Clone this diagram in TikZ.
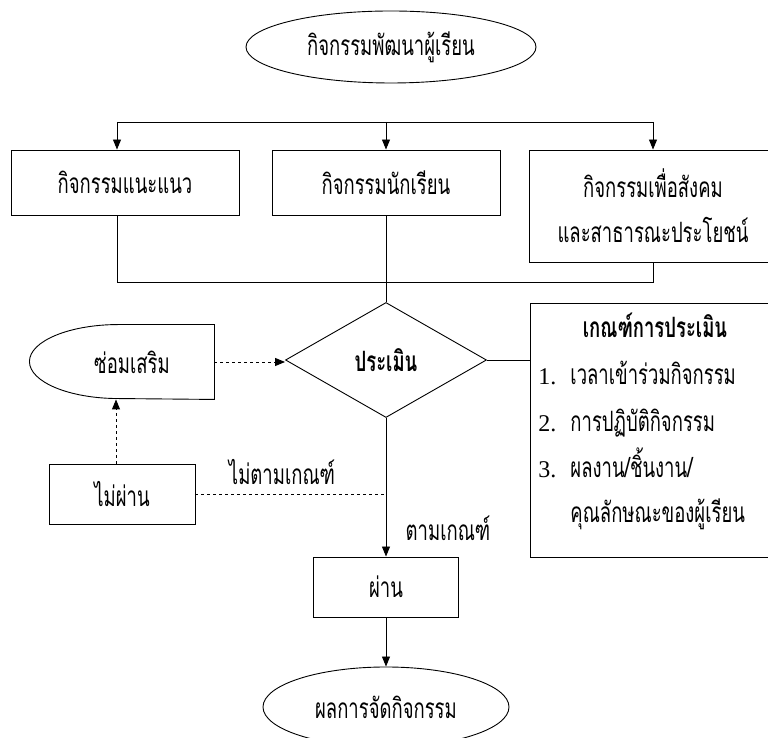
\documentclass[tikz,border=0pt]{standalone}
\usepackage{fontspec}
\setmainfont{Liberation Serif}
\newfontfamily\thai[Script=Thai,FakeStretch=0.66]{Loma}
\usetikzlibrary{shapes.geometric,arrows.meta}
\begin{document}
\begin{tikzpicture}[x=1pt, y=1pt, >={Triangle[length=10pt,width=8pt]},
  line width=0.9pt,
  thaifont/.style={font=\thai\fontsize{28}{45}\selectfont},
  box/.style={draw, rectangle, inner sep=0pt, thaifont, align=center},
  oval/.style={draw, ellipse, inner sep=0pt, thaifont},
  txt/.style={inner sep=0pt, thaifont},
  item/.style={inner sep=0pt, anchor=base west, thaifont},
  num/.style={inner sep=0pt, anchor=base west, font=\fontsize{24}{26}\selectfont}]

\useasboundingbox (0,0) rectangle (768,738);
\clip (0,0) rectangle (768,738);

%=== Верх: кружок и три вида ===
\node[oval, minimum width=290pt, minimum height=72pt] (start) at (391,691) {กิจกรรมพัฒนาผู้เรียน};

\node[box, minimum width=228pt, minimum height=65pt] (guide) at (125,555.5) {กิจกรรมแนะแนว};
\node[box, minimum width=228pt, minimum height=65pt] (student) at (386,555.5) {กิจกรรมนักเรียน};
\node[box, minimum width=248pt, minimum height=112pt] (social) at (653,532) {กิจกรรมเพื่อสังคม\\และสาธารณะประโยชน์};

\coordinate (busL) at (117,616);
\coordinate (busR) at (653,616);
\draw (busL) -- (busR);
\draw[->] (busL) -- (busL |- guide.north);
\draw[->] (busL -| student.north) -- (student.north);
\draw[->] (busR) -- (social.north);

% сбор в одну линию
\coordinate (joinL) at (117,456);
\draw (joinL |- guide.south) -- (joinL) -- (joinL -| social.south) -- (social.south);

%=== Середина: ромб и критерии ===
\node[draw, diamond, inner sep=0pt, aspect=1.75, minimum width=201pt, minimum height=115pt,
  font=\thai\bfseries\fontsize{28}{30}\selectfont] (eval) at (386,378) {ประเมิน};
\draw (student.south) -- (eval.north);

\node[draw, rectangle, minimum width=247pt, minimum height=254pt] (crit) at (653.5,308) {};
\draw (eval.east) -- (eval.east -| crit.west);
\node[txt, anchor=base, font=\thai\bfseries\fontsize{28}{30}\selectfont] (critT) at (655,400) {เกณฑ์การประเมิน};
\coordinate (numx) at (538,0);
\node[item] (c1) at (570,353) {เวลาเข้าร่วมกิจกรรม};
\node[num] (n1) at (numx |- c1.base) {1.};
\node[item] (c2) at (570,306) {การปฏิบัติกิจกรรม};
\node[num] (n2) at (numx |- c2.base) {2.};
\node[item] (c3) at (570,260) {ผลงาน/ชิ้นงาน/};
\node[num] (n3) at (numx |- c3.base) {3.};
\node[item] (c4) at (570,215) {คุณลักษณะของผู้เรียน};

%=== Левая ветка: ซ่อมเสริม ===
\node[inner sep=0pt, minimum width=185pt, minimum height=74pt, thaifont] (fix) at (121.5,376) {\hspace{21pt}ซ่อมเสริม};
\draw (fix.north east) -- ++(-96,0)
  arc[start angle=90, end angle=270, x radius=89, y radius=37] -- (fix.south east) -- cycle;
\draw[->, dashed] (fix.east) -- (fix.east -| eval.west);

\node[box, minimum width=146pt, minimum height=60pt] (fail) at (122,244) {ไม่ผ่าน};
\draw[->, dashed] ([xshift=-6pt]fail.north) -- ([xshift=-6pt]fail.north |- fix.south);
\draw[dashed] (fail.east) -- (fail.east -| eval.south);
\node[txt] (notok) at (282,266) {ไม่ตามเกณฑ์};

%=== Низ: ผ่าน и итог ===
\node[box, minimum width=145pt, minimum height=60pt] (pass) at (386,151) {ผ่าน};
\draw[->] (eval.south) -- (pass.north);
\node[txt] (ok) at (448,210) {ตามเกณฑ์};

\node[oval, minimum width=246pt, minimum height=80pt] (result) at (386,31) {ผลการจัดกิจกรรม};
\draw[->] (pass.south) -- (result.north);

\end{tikzpicture}
\end{document}
